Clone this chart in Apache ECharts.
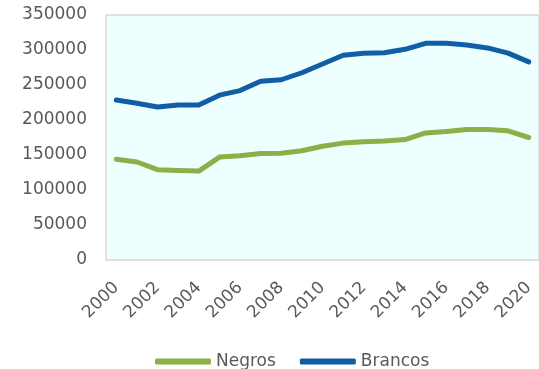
<!DOCTYPE html>
<html>
<head>
<meta charset="utf-8">
<script src="https://cdn.jsdelivr.net/npm/echarts@6/dist/echarts.min.js"></script>
<style>
  html, body { margin: 0; padding: 0; background: #ffffff; }
  #chart { width: 539px; height: 369px; }
</style>
</head>
<body>
<div id="chart"></div>
<script>
// Years on the horizontal axis
const years = ['2000','2001','2002','2003','2004','2005','2006','2007','2008','2009','2010',
               '2011','2012','2013','2014','2015','2016','2017','2018','2019','2020'];

// Series values
const negros = [144000, 140000, 129000, 128000, 127000, 147000, 149000, 152000, 152500, 156000, 162500,
                167000, 169000, 170000, 172000, 181500, 183500, 186500, 186500, 184500, 175000];
const brancos = [228500, 224000, 218500, 221500, 221500, 235500, 242000, 255500, 257500, 267500, 280000,
                 292500, 295500, 296000, 301000, 309500, 309500, 307000, 303000, 295500, 283000];

// Y axis range
const yMin = 0, yMax = 350000, yStep = 50000;

const FONT = 'DejaVu Sans';
const TEXT = '#595959';
const GREEN = '#8AB048';
const BLUE = '#105EA6';

const chart = echarts.init(document.getElementById('chart'), null, { renderer: 'canvas' });
chart.setOption({
  animation: false,
  grid: {
    left: 106, right: -9, top: 15, bottom: 109,
    show: true,
    backgroundColor: '#EDFFFF',
    borderColor: '#D9D9D9',
    borderWidth: 1.5
  },
  legend: {
    left: 150, top: 348,
    itemWidth: 56, itemHeight: 6,
    itemGap: 24,
    icon: 'roundRect',
    textStyle: { fontFamily: FONT, fontSize: 17, color: TEXT },
    data: ['Negros', 'Brancos']
  },
  xAxis: {
    type: 'category',
    data: years,
    boundaryGap: true,
    axisLine: { show: false },
    axisTick: { show: false },
    axisLabel: {
      interval: 1,
      rotate: 45,
      margin: 25,
      fontFamily: FONT, fontSize: 17, color: TEXT
    }
  },
  yAxis: {
    type: 'value',
    min: yMin, max: yMax, interval: yStep,
    axisLine: { show: false },
    axisTick: { show: false },
    splitLine: { show: false },
    axisLabel: {
      margin: 19, fontFamily: FONT, fontSize: 17, color: TEXT,
      formatter: v => String(v)
    }
  },
  series: [
    {
      name: 'Negros', type: 'line', data: negros,
      showSymbol: false, symbol: 'none',
      lineStyle: { width: 5, color: GREEN, cap: 'round', join: 'round' },
      itemStyle: { color: GREEN }
    },
    {
      name: 'Brancos', type: 'line', data: brancos,
      showSymbol: false, symbol: 'none',
      lineStyle: { width: 5, color: BLUE, cap: 'round', join: 'round' },
      itemStyle: { color: BLUE }
    }
  ]
});
</script>
</body>
</html>
